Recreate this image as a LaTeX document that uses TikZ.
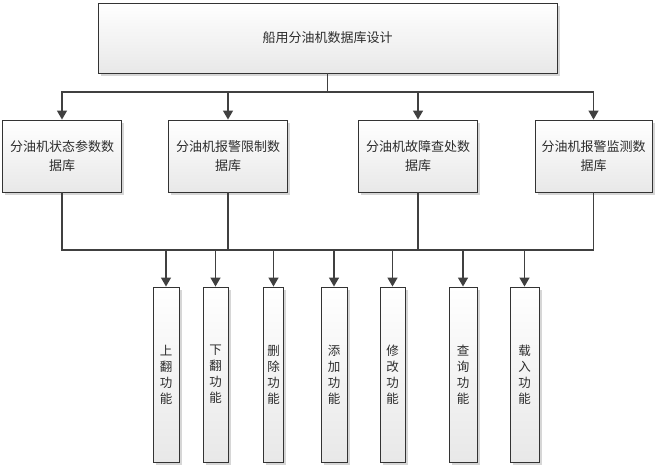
\documentclass[tikz,border=0pt]{standalone}
\usepackage{fontspec}
\newfontfamily\cjk{Noto Sans CJK SC}
\usepackage{tikz}
\usetikzlibrary{arrows.meta, positioning, shadows}
\definecolor{linegray}{RGB}{64, 64, 64}
\definecolor{boxedge}{RGB}{51, 51, 51}
\definecolor{textgray}{RGB}{45, 45, 45}

\begin{document}
\begin{tikzpicture}[
    x=1pt, y=-1pt,
    >={Triangle[length=9pt, width=10pt]},
    basebox/.style={rectangle, draw=boxedge, line width=0.9pt, top color=white, bottom color=black!9, drop shadow={shadow xshift=2.5pt, shadow yshift=-2.5pt, fill=black!16, opacity=1}, text=textgray, align=center, inner sep=2pt},
    rootbox/.style={basebox, minimum width=459pt, minimum height=70pt, font=\cjk\fontsize{13}{19}\selectfont},
    dbbox/.style={basebox, minimum width=119pt, minimum height=72pt, font=\cjk\fontsize{13}{19}\selectfont},
    funcbox/.style={basebox, minimum height=175pt, font=\cjk\fontsize{12.5}{16}\selectfont},
    link/.style={draw=linegray, line width=1.4pt},
]
    \useasboundingbox (0,0) rectangle (658,466);

    \node[rootbox] (root) at (327.5,38) {船用分油机数据库设计};

    \node[dbbox] (db1) at (62,156) {分油机状态参数数\\据库};
    \node[dbbox] (db2) at (228,156) {分油机报警限制数\\据库};
    \node[dbbox] (db3) at (418,156) {分油机故障查处数\\据库};
    \node[dbbox, minimum width=117pt] (db4) at (593.5,156) {分油机报警监测数\\据库};

    \node[funcbox, minimum width=26pt] (f1) at (166,374.5) {上\\翻\\功\\能};
    \node[funcbox, minimum width=25pt] (f2) at (215.5,374.5) {下\\翻\\功\\能};
    \node[funcbox, minimum width=20pt] (f3) at (273.5,374.5) {删\\除\\功\\能};
    \node[funcbox, minimum width=26pt] (f4) at (334,374.5) {添\\加\\功\\能};
    \node[funcbox, minimum width=25pt] (f5) at (392.5,374.5) {修\\改\\功\\能};
    \node[funcbox, minimum width=28pt] (f6) at (463,374.5) {查\\询\\功\\能};
    \node[funcbox, minimum width=29pt] (f7) at (524.5,374.5) {载\\入\\功\\能};

    \coordinate (topbus) at (327.5,92);
    \coordinate (lowbus) at (327.5,250);

    \draw[link] (root) -- (topbus);
    \draw[link, ->] (topbus) -| (db1);
    \draw[link, ->] (topbus) -| (db2);
    \draw[link, ->] (topbus) -| (db3);
    \draw[link, ->] (topbus) -| (db4);

    \draw[link] (db1) |- (lowbus);
    \draw[link] (db2) |- (lowbus);
    \draw[link] (db3) |- (lowbus);
    \draw[link] (db4) |- (lowbus);

    \draw[link, ->] (lowbus) -| (f1);
    \draw[link, ->] (lowbus) -| (f2);
    \draw[link, ->] (lowbus) -| (f3);
    \draw[link, ->] (lowbus) -| (f4);
    \draw[link, ->] (lowbus) -| (f5);
    \draw[link, ->] (lowbus) -| (f6);
    \draw[link, ->] (lowbus) -| (f7);
\end{tikzpicture}
\end{document}
